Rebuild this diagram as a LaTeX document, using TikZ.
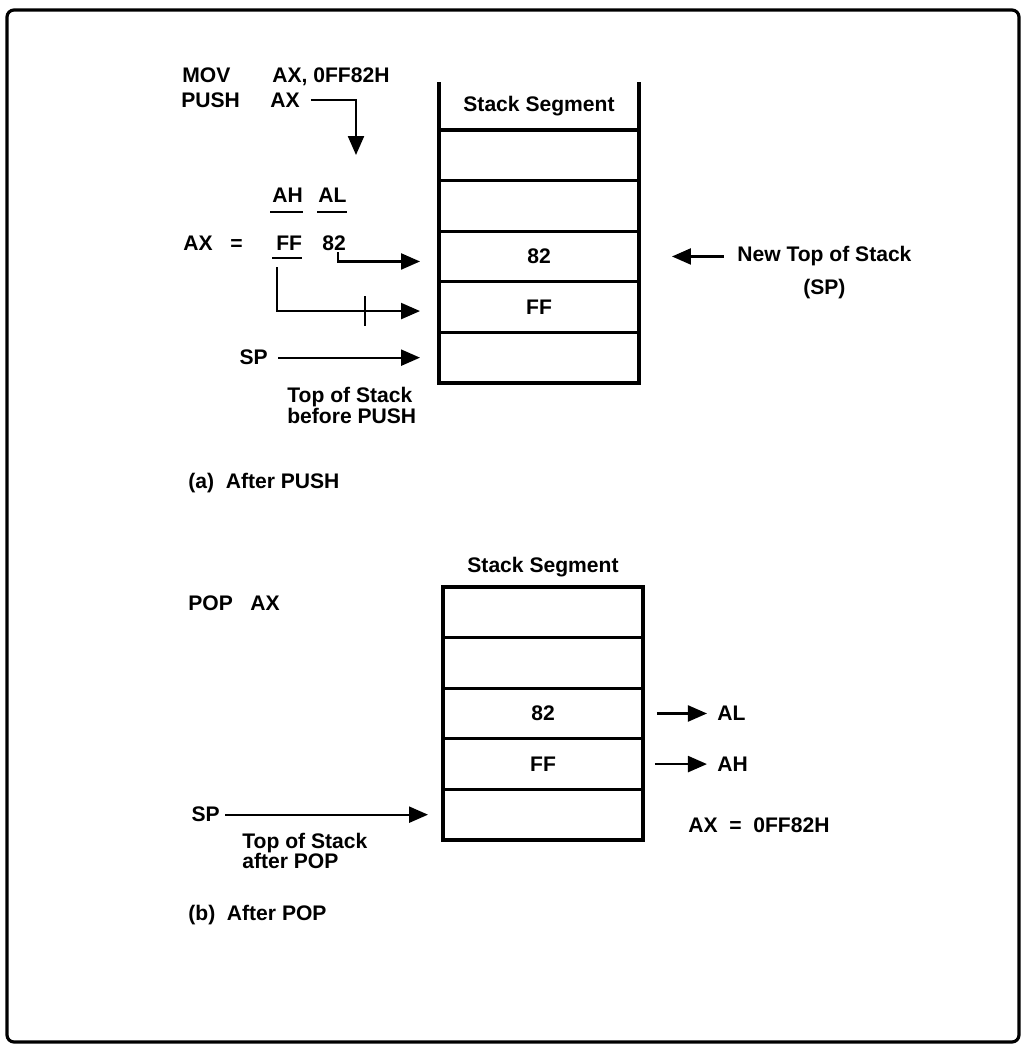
\documentclass[tikz,border=0pt]{standalone}
\usepackage{fontspec}
\setmainfont{Liberation Sans}
\usetikzlibrary{arrows.meta, positioning}
\tikzset{
	lbl/.style ={inner sep=0pt, anchor=base west},
	cell/.style={rectangle, draw=black, line width=1.8pt, minimum width=4cm, minimum height=1.012cm, outer sep=0pt, inner sep=0pt},
	hdr/.style ={rectangle, minimum width=4cm, minimum height=0.96cm, outer sep=0pt, inner sep=0pt},
	sig/.style ={-{Triangle[length=3.8mm, width=3.2mm]}, line width=1.3pt},
	bar/.style ={line width=1.3pt},
}

\begin{document}
\begin{tikzpicture}[x=0.02cm, y=-0.02cm, font=\bfseries\fontsize{12}{12.5}\selectfont]
	\useasboundingbox (0,0) rectangle (1025,1045);
	\draw[line width=1.8pt, rounded corners=4pt] (7,10) rectangle (1019,1042);
	% (a) after PUSH
	\node[lbl] (mov) at (182,82) {MOV};
	\node[lbl] (movarg) at (272,82) {AX, 0FF82H};
	\node[lbl] (push) at (181,107) {PUSH};
	\node[lbl] (pusharg) at (270,107) {AX};
	\node[lbl] (ah) at (272,202) {AH};
	\node[lbl] (al) at (318,202) {AL};
	\node[lbl] (ax) at (183,250) {AX};
	\node[lbl] (eq) at (230,250) {=};
	\node[lbl] (ff) at (276,250) {FF};
	\node[lbl] (lo) at (322,250) {82};
	\draw[bar] ([xshift=-0.04cm, yshift=-0.2cm]ah.base west) -- ([yshift=-0.2cm]ah.base east);
	\draw[bar] ([xshift=-0.02cm, yshift=-0.2cm]al.base west) -- ([yshift=-0.2cm]al.base east);
	\draw[bar] ([xshift=-0.08cm, yshift=-0.16cm]ff.base west) -- ([yshift=-0.16cm]ff.base east);
	\node[hdr] (seg) at (539,106) {Stack Segment};
	\node[cell, below=0pt of seg] (t1) {};
	\node[cell, below=0pt of t1] (t2) {};
	\node[cell, below=0pt of t2] (t3) {82};
	\node[cell, below=0pt of t3] (t4) {FF};
	\node[cell, below=0pt of t4] (t5) {};
	\draw[line width=1.8pt] (seg.north west) -- (seg.south west);
	\draw[line width=1.8pt] (seg.north east) -- (seg.south east);
	\coordinate (pushend) at (356,155);
	\draw[sig] ([xshift=0.22cm]pusharg.east) -| (pushend);
	\draw[sig] ([xshift=-0.16cm, yshift=-0.04cm]lo.base east) |- ([xshift=-0.38cm, yshift=-0.1cm]t3.west);
	\draw[sig] ([xshift=0.02cm, yshift=-0.34cm]ff.base west) |- ([xshift=-0.38cm, yshift=-0.08cm]t4.west);
	\draw[bar] ([xshift=-1.48cm, yshift=0.22cm]t4.west) -- ([xshift=-1.48cm, yshift=-0.38cm]t4.west);
	\node[inner sep=0pt, left=3.42cm of t5] (sp1) {SP};
	\draw[sig] ([xshift=0.2cm]sp1.east) -- ([xshift=-0.38cm]t5.west);
	\node[lbl] (tos1) at (287,402) {Top of Stack};
	\node[lbl] (tos2) at (287,423) {before PUSH};
	\node[inner sep=0pt, right=1.96cm of t3, anchor=west] (newtop) {New Top of Stack};
	\node[inner sep=0pt, below=0.24cm of newtop] (newsp) {(SP)};
	\draw[sig] ([xshift=-0.26cm]newtop.west) -- ([xshift=0.66cm]t3.east);
	\node[lbl] (capa) at (188,488) {(a)~~After PUSH};
	% (b) after POP
	\node[anchor=base, inner sep=0pt] (seg2) at (543,572) {Stack Segment};
	\node[lbl] (pop) at (188,610) {POP};
	\node[lbl] (poparg) at (250,610) {AX};
	\node[cell] (b1) at (543,612.3) {};
	\node[cell, below=0pt of b1] (b2) {};
	\node[cell, below=0pt of b2] (b3) {82};
	\node[cell, below=0pt of b3] (b4) {FF};
	\node[cell, below=0pt of b4] (b5) {};
	\node[inner sep=0pt, right=1.48cm of b3] (alb) {AL};
	\node[inner sep=0pt, right=1.48cm of b4] (ahb) {AH};
	\draw[sig] ([xshift=0.28cm]b3.east) -- ([xshift=-0.2cm]alb.west);
	\draw[sig] ([xshift=0.24cm]b4.east) -- ([xshift=-0.2cm]ahb.west);
	\node[lbl] (axval) at (688,832) {AX\ \ =\ \ 0FF82H};
	\node[inner sep=0pt, left=4.46cm of b5] (sp2) {SP};
	\draw[sig] ([xshift=0.1cm]sp2.east) -- ([xshift=-0.3cm]b5.west);
	\node[lbl] (tos3) at (242,848) {Top of Stack};
	\node[lbl] (tos4) at (242,868) {after POP};
	\node[lbl] (capb) at (188,920) {(b)~~After POP};
\end{tikzpicture}
\end{document}
